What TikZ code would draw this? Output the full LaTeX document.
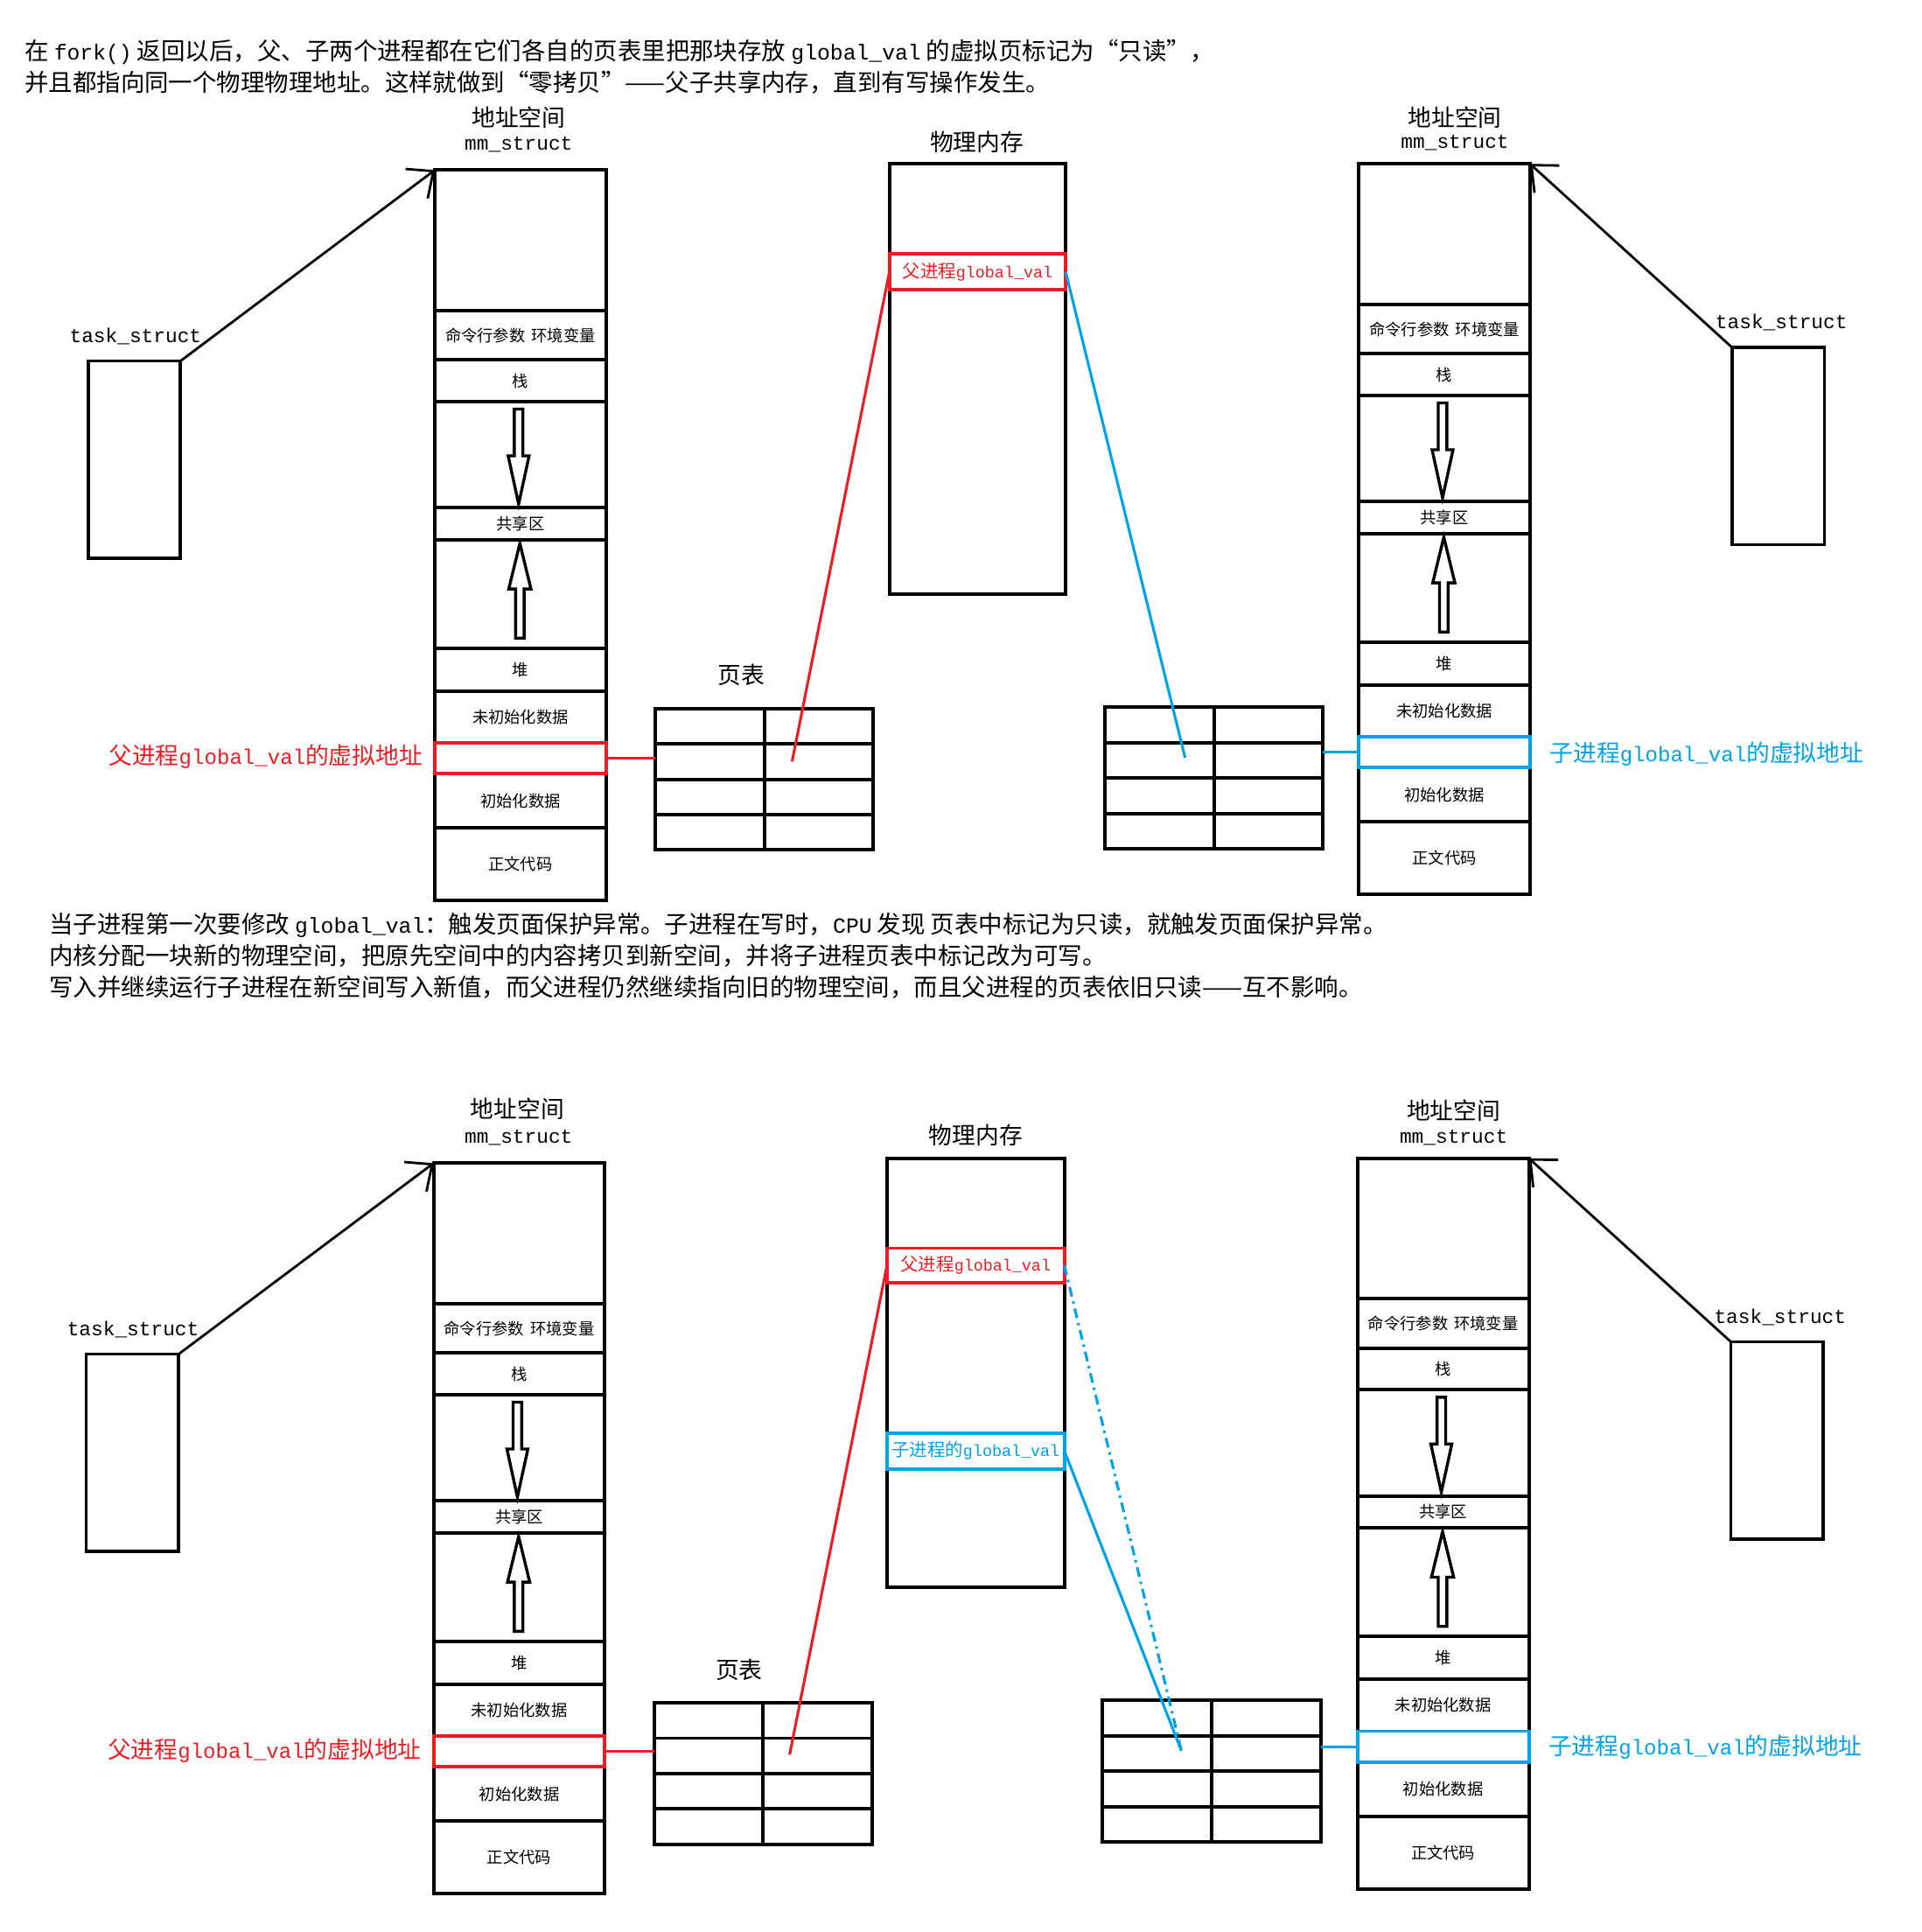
\documentclass[tikz,border=0pt]{standalone}
\usepackage{fontspec}
\setmainfont{Noto Sans CJK SC}
\newfontfamily\monof{Liberation Mono}[Scale=0.9]
\newcommand\mo[1]{{\monof #1}}
\usetikzlibrary{arrows.meta}
\definecolor{pred}{RGB}{237,28,36}
\definecolor{pblue}{RGB}{0,162,232}
\tikzset{
  every node/.style={inner sep=0pt, outer sep=0pt},
  seg/.style={draw, line width=2.8pt, minimum width=139pt, font=\fontsize{13}{15}\selectfont},
  mem/.style={draw, line width=2.8pt, font=\fontsize{14.5}{17}\selectfont},
  cell/.style={draw, line width=2.8pt, minimum width=88.5pt, minimum height=28.7pt},
  tbox/.style={draw, line width=2.6pt, minimum width=75pt, minimum height=160pt},
  titletext/.style={font=\fontsize{19}{22}\selectfont},
  bodytext/.style={font=\fontsize{19.5}{23}\selectfont, anchor=west},
  monotext/.style={font=\fontsize{18}{22}\selectfont\monof},
  barrow/.style={draw, line width=2.4pt, fill=white, line join=miter},
  ptr/.style={line width=2pt, -{Straight Barb[length=17pt,width=30pt,line width=2pt]}},
  redline/.style={draw=pred, line width=2.2pt},
  blueline/.style={draw=pblue, line width=2.2pt},
  bluedash/.style={draw=pblue, line width=2.2pt, dash pattern=on 8pt off 4pt on 2pt off 4pt},
  redlabel/.style={text=pred, font=\fontsize{19}{22}\selectfont},
  bluelabel/.style={text=pblue, font=\fontsize{19}{22}\selectfont}
}
% address-space column: #1 name, #2 left x, #3 top y, #4 highlight colour
\newcommand\addrcol[4]{%
  \node[seg, minimum height=114pt] (#1top) at ({#2+69.5},{#3+57}) {};
  \node[seg, minimum height=40pt] (#1cmd) at ({#2+69.5},{#3+134}) {命令行参数\hspace{5pt}环境变量};
  \node[seg, minimum height=34pt] (#1stk) at ({#2+69.5},{#3+171}) {栈};
  \node[seg, minimum height=86pt] (#1gapa) at ({#2+69.5},{#3+231}) {};
  \node[seg, minimum height=26pt] (#1shm) at ({#2+69.5},{#3+287}) {共享区};
  \node[seg, minimum height=88pt] (#1gapb) at ({#2+69.5},{#3+344}) {};
  \node[seg, minimum height=35pt] (#1heap) at ({#2+69.5},{#3+405.5}) {堆};
  \node[seg, minimum height=42pt] (#1bss) at ({#2+69.5},{#3+444}) {未初始化数据};
  \node[seg, minimum height=44pt] (#1data) at ({#2+69.5},{#3+512}) {初始化数据};
  \node[seg, minimum height=59pt] (#1text) at ({#2+69.5},{#3+563.5}) {正文代码};
  \node[seg, draw=#4, minimum height=25pt] (#1hl) at ({#2+69.5},{#3+477.5}) {};
  \draw[barrow] ({#2+64.5},{#3+194}) -- ({#2+71.5},{#3+194}) -- ({#2+71.5},{#3+232})
     -- ({#2+76.5},{#3+232}) -- ({#2+68},{#3+271}) -- ({#2+59.5},{#3+232})
     -- ({#2+64.5},{#3+232}) -- cycle;
  \draw[barrow] ({#2+65.5},{#3+380}) -- ({#2+72.5},{#3+380}) -- ({#2+72.5},{#3+340})
     -- ({#2+78},{#3+340}) -- ({#2+69},{#3+303}) -- ({#2+60},{#3+340})
     -- ({#2+65.5},{#3+340}) -- cycle;
}
% page table: #1 name, #2 left x, #3 top y
\newcommand\pagetable[3]{%
  \foreach \r in {0,1,2,3}{\foreach \c in {0,1}{%
    \node[cell] (#1-\r-\c) at ({#2+44.25+88.5*\c},{#3+14.35+28.7*\r}) {};}}
}
\begin{document}
\begin{tikzpicture}[x=1pt,y=-1pt]
\useasboundingbox (0,0) rectangle (1560,1568);

% ---------------- header text ----------------
\node[bodytext] (h1) at (20,42) {在 \mo{fork()} 返回以后，父、子两个进程都在它们各自的页表里把那块存放 \mo{global\_val} 的虚拟页标记为“只读”，};
\node[bodytext] (h2) at (20,67) {并且都指向同一个物理物理地址。这样就做到“零拷贝”——父子共享内存，直到有写操作发生。};

% ---------------- top: parent side ----------------
\node[titletext] (A1title) at (421,95) {地址空间};
\node[monotext] (A1mm) at (421,117) {mm\_struct};
\addrcol{A1}{353}{138}{pred}
\node[tbox] (T1) at (109,373) {};
\node[monotext] (T1lab) at (110,273) {task\_struct};
\draw[ptr] (T1.north east) -- (A1top.north west);
\node[redlabel, anchor=east] (A1lab) at (343,614) {父进程\mo{global\_val}的虚拟地址};

\node[titletext] (P1title) at (602,548) {页表};
\pagetable{P1}{532}{575}
\draw[redline] (A1hl.east) -- (A1hl.east -| P1-1-0.west);

% physical memory
\node[titletext] (M1title) at (793,115) {物理内存};
\node[mem, minimum width=143pt, minimum height=349pt] (M1) at (793.5,307.5) {};
\node[mem, draw=pred, text=pred, minimum width=143pt, minimum height=29pt] (M1r) at (793.5,220.5) {父进程\mo{global\_val}};
\coordinate (P1pt) at (643,618);
\draw[redline] (P1pt) -- (M1r.west);

% ---------------- top: child side ----------------
\node[titletext] (A2title) at (1181,95) {地址空间};
\node[monotext] (A2mm) at (1181,116) {mm\_struct};
\addrcol{A2}{1103}{133}{pblue}
\node[tbox] (T2) at (1443.5,362) {};
\node[monotext] (T2lab) at (1446,262) {task\_struct};
\draw[ptr] (T2.north west) -- (A2top.north east);
\node[bluelabel, anchor=west] (A2lab) at (1258,612) {子进程\mo{global\_val}的虚拟地址};

\pagetable{P2}{897}{574}
\draw[blueline] (A2hl.west) -- (A2hl.west -| P2-1-1.east);
\coordinate (P2pt) at (962,615);
\draw[blueline] (M1r.east) -- (P2pt);

% ---------------- middle text ----------------
\node[bodytext] (m1) at (40,751) {当子进程第一次要修改 \mo{global\_val}：触发页面保护异常。子进程在写时，\mo{CPU} 发现 页表中标记为只读，就触发页面保护异常。};
\node[bodytext] (m2) at (40,776) {内核分配一块新的物理空间，把原先空间中的内容拷贝到新空间，并将子进程页表中标记改为可写。};
\node[bodytext] (m3) at (40,801) {写入并继续运行子进程在新空间写入新值，而父进程仍然继续指向旧的物理空间，而且父进程的页表依旧只读——互不影响。};

% ---------------- bottom: parent side ----------------
\node[titletext] (B1title) at (420,900) {地址空间};
\node[monotext] (B1mm) at (421,923) {mm\_struct};
\addrcol{B1}{352}{944}{pred}
\node[tbox] (U1) at (107.5,1179) {};
\node[monotext] (U1lab) at (108,1079) {task\_struct};
\draw[ptr] (U1.north east) -- (B1top.north west);
\node[redlabel, anchor=east] (B1lab) at (342,1421) {父进程\mo{global\_val}的虚拟地址};

\node[titletext] (Q1title) at (600,1355) {页表};
\pagetable{Q1}{531}{1382}
\draw[redline] (B1hl.east) -- (B1hl.east -| Q1-1-0.west);

\node[titletext] (N1title) at (792,921) {物理内存};
\node[mem, minimum width=144pt, minimum height=348pt] (N1) at (792,1114) {};
\node[mem, draw=pred, text=pred, minimum width=144pt, minimum height=28pt] (N1r) at (792,1027) {父进程\mo{global\_val}};
\node[mem, draw=pblue, text=pblue, minimum width=144pt, minimum height=29pt] (N1b) at (792,1177.5) {子进程的\mo{global\_val}};
\coordinate (Q1pt) at (641,1424);
\draw[redline] (Q1pt) -- (N1r.west);

% ---------------- bottom: child side ----------------
\node[titletext] (B2title) at (1180,901) {地址空间};
\node[monotext] (B2mm) at (1180,923) {mm\_struct};
\addrcol{B2}{1102}{940}{pblue}
\node[tbox] (U2) at (1442.5,1169) {};
\node[monotext] (U2lab) at (1445,1069) {task\_struct};
\draw[ptr] (U2.north west) -- (B2top.north east);
\node[bluelabel, anchor=west] (B2lab) at (1257,1418) {子进程\mo{global\_val}的虚拟地址};

\pagetable{Q2}{895}{1380}
\draw[blueline] (B2hl.west) -- (B2hl.west -| Q2-1-1.east);
\coordinate (Q2pt) at (959,1421);
\draw[blueline] (N1b.east) -- (Q2pt);
\draw[bluedash] (N1r.east) -- (Q2pt);
\end{tikzpicture}
\end{document}
